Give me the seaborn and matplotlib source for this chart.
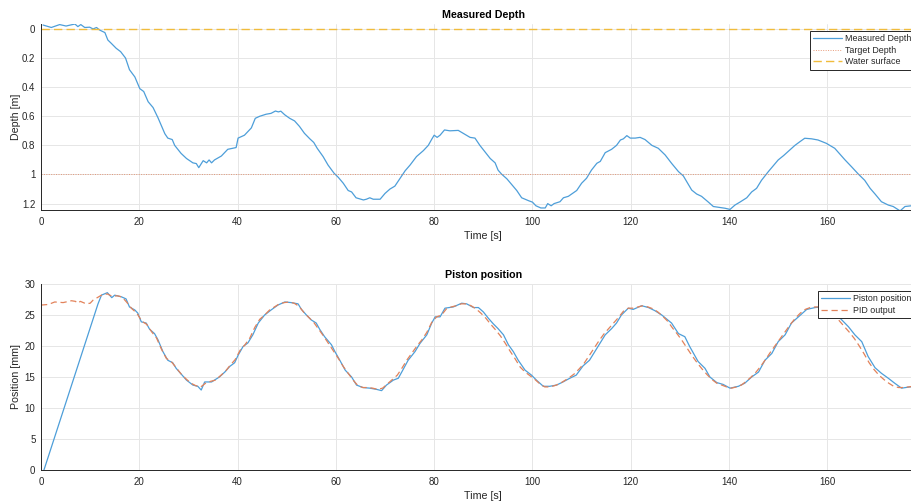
import numpy as np
import pandas as pd
import matplotlib
matplotlib.use("Agg")
import matplotlib.pyplot as plt
from matplotlib.ticker import FuncFormatter
import seaborn as sns

# ---- Measured depth [m] over time [s] ----
depth_t = [0.4, 2.1, 3.8, 5.1, 6.9, 7.5, 8.1, 8.9, 9.9, 10.6, 11.3, 11.9, 13.0, 13.6,
           14.3, 15.3, 16.2, 17.2, 18.0, 19.1, 20.1, 20.9, 21.8, 22.8, 23.8, 25.2, 25.8,
           26.7, 27.2, 28.5, 29.6, 30.9, 31.6, 32.1, 33.0, 33.7, 34.2, 34.7, 35.3, 36.7,
           38.0, 39.0, 39.7, 40.1, 41.4, 42.8, 43.6, 44.5, 45.8, 46.8, 47.7, 48.3, 48.8,
           49.6, 50.6, 51.6, 52.6, 53.6, 54.7, 55.5, 56.2, 57.4, 58.4, 59.6, 60.5, 61.5,
           62.5, 63.2, 64.1, 65.6, 66.2, 66.9, 67.6, 69.0, 70.0, 71.0, 72.0, 73.0, 74.1,
           75.1, 76.4, 77.8, 78.8, 79.5, 80.0, 80.6, 81.2, 82.1, 83.2, 84.9, 85.9, 87.3,
           88.3, 89.3, 90.3, 91.4, 92.4, 93.0, 93.7, 94.8, 95.8, 96.8, 97.8, 99.2, 100.0,
           100.7, 101.7, 102.6, 103.1, 103.8, 104.4, 105.6, 106.3, 107.3, 109.0, 110.0,
           111.0, 112.0, 113.1, 113.8, 114.8, 116.1, 117.1, 117.9, 118.5, 119.2, 119.9,
           120.9, 121.9, 122.9, 124.3, 125.6, 127.0, 128.3, 129.7, 130.7, 131.4, 132.4,
           133.4, 134.4, 135.1, 135.8, 136.8, 137.8, 139.2, 140.2, 141.2, 142.2, 143.6,
           144.6, 145.6, 146.6, 148.0, 149.0, 150.0, 151.1, 152.0, 153.4, 154.4, 155.4,
           156.8, 158.1, 159.8, 161.5, 163.6, 164.9, 166.3, 167.6, 168.7, 169.7, 171.0,
           172.4, 173.4, 174.8, 175.8, 177.1, 178.5]
depth_m = [-0.027, -0.010, -0.030, -0.020, -0.034, -0.016, -0.030, -0.010, -0.012, 0.000,
           -0.010, 0.007, 0.025, 0.076, 0.099, 0.133, 0.156, 0.200, 0.280, 0.330, 0.410,
           0.430, 0.500, 0.540, 0.610, 0.720, 0.750, 0.760, 0.800, 0.855, 0.890, 0.920,
           0.925, 0.953, 0.905, 0.920, 0.900, 0.920, 0.900, 0.873, 0.827, 0.820, 0.815,
           0.750, 0.730, 0.680, 0.614, 0.600, 0.586, 0.580, 0.564, 0.570, 0.565, 0.590,
           0.614, 0.632, 0.670, 0.717, 0.755, 0.780, 0.820, 0.877, 0.935, 0.990, 1.020,
           1.060, 1.110, 1.120, 1.160, 1.175, 1.170, 1.160, 1.170, 1.170, 1.130, 1.100,
           1.080, 1.030, 0.974, 0.935, 0.877, 0.836, 0.800, 0.758, 0.730, 0.745, 0.730,
           0.694, 0.700, 0.697, 0.717, 0.745, 0.750, 0.800, 0.843, 0.890, 0.920, 0.970,
           0.997, 1.030, 1.070, 1.110, 1.160, 1.180, 1.190, 1.215, 1.230, 1.230, 1.200,
           1.215, 1.200, 1.187, 1.160, 1.150, 1.110, 1.060, 1.026, 0.970, 0.923, 0.910,
           0.850, 0.827, 0.800, 0.763, 0.755, 0.733, 0.750, 0.750, 0.745, 0.760, 0.800,
           0.820, 0.866, 0.923, 0.980, 1.010, 1.050, 1.107, 1.134, 1.150, 1.170, 1.190,
           1.220, 1.225, 1.232, 1.240, 1.210, 1.190, 1.160, 1.120, 1.095, 1.040, 0.980,
           0.940, 0.900, 0.870, 0.843, 0.800, 0.775, 0.751, 0.755, 0.763, 0.786, 0.820,
           0.900, 0.946, 0.997, 1.040, 1.095, 1.134, 1.187, 1.210, 1.220, 1.250, 1.220,
           1.215, 1.210]

target_depth = 1.0
water_surface = 0.0

# ---- Piston position [mm] ----
piston_t = [0.6, 11.6, 12.3, 13.5, 14.4, 15.0, 16.3, 17.3, 18.0, 19.1, 19.7, 20.4, 21.4,
            22.1, 23.1, 23.8, 24.8, 25.8, 26.8, 27.5, 28.5, 29.6, 30.9, 31.9, 32.6, 33.3,
            34.7, 35.3, 36.3, 37.4, 38.4, 39.4, 40.1, 41.1, 42.1, 43.1, 44.2, 45.5, 46.8,
            48.2, 49.6, 50.9, 52.3, 53.0, 54.0, 55.0, 56.0, 56.7, 57.7, 59.1, 59.8, 60.8,
            61.9, 63.2, 64.2, 65.5, 66.9, 68.3, 69.3, 70.3, 71.7, 72.7, 73.4, 74.7, 76.1,
            77.1, 78.5, 79.5, 80.2, 81.2, 82.2, 83.9, 85.6, 86.6, 88.0, 89.0, 90.0, 91.0,
            92.0, 93.0, 94.1, 95.1, 96.1, 97.1, 98.5, 99.8, 100.8, 102.2, 103.5, 104.9,
            106.2, 107.6, 108.9, 110.3, 111.6, 112.7, 113.7, 114.8, 116.1, 117.1, 118.1,
            119.5, 120.5, 122.2, 123.6, 124.9, 126.3, 128.3, 129.7, 131.0, 132.0, 133.7,
            135.1, 136.1, 137.5, 138.8, 140.2, 141.9, 143.2, 144.6, 146.0, 147.3, 148.7,
            150.0, 151.4, 152.7, 154.1, 155.8, 157.5, 159.3, 161.0, 162.2, 164.3, 165.6,
            167.0, 168.3, 169.7, 171.0, 172.4, 173.7, 175.1, 176.8, 178.5]
piston_mm = [0.0, 26.8, 28.2, 28.6, 27.8, 28.2, 27.95, 27.6, 26.3, 25.8, 25.3, 23.9, 23.7,
             22.7, 22.0, 21.0, 19.1, 17.7, 17.3, 16.4, 15.5, 14.5, 13.7, 13.5, 12.9, 14.2,
             14.2, 14.5, 15.0, 15.8, 16.7, 17.3, 18.5, 19.9, 20.5, 21.8, 23.7, 25.0, 25.8,
             26.6, 27.1, 27.0, 26.8, 25.9, 25.0, 24.2, 23.7, 22.7, 21.5, 20.2, 19.1, 17.7,
             16.1, 15.0, 13.7, 13.3, 13.2, 13.0, 12.8, 13.7, 14.5, 14.8, 15.8, 17.7, 19.1,
             20.4, 21.8, 23.7, 24.7, 24.7, 26.1, 26.3, 26.9, 26.8, 26.2, 26.2, 25.5, 24.5,
             23.6, 22.8, 21.8, 20.2, 19.1, 17.7, 16.1, 15.3, 14.5, 13.5, 13.5, 13.7,
             14.2, 14.8, 15.3, 16.8, 17.7, 19.1, 20.4, 21.8, 22.8, 23.7, 25.0,
             26.1, 25.9, 26.5, 26.2, 25.7, 25.0, 23.7, 22.0, 21.5, 19.9, 17.5,
             16.4, 15.0, 14.1, 13.8, 13.2, 13.5, 14.0, 15.0, 15.8, 17.7, 18.8,
             20.7, 21.8, 23.7, 24.7, 25.9, 26.2, 26.3, 25.6, 24.8, 23.1, 21.8,
             20.7, 18.3, 16.5, 15.6, 14.8, 14.0, 13.2, 13.4, 13.4]

# ---- PID output [mm] ----
pid_t = [0.0, 1.5, 2.8, 4.5, 6.2, 7.0, 7.5, 8.0, 9.2, 10.0, 10.6, 12.3, 13.5, 14.5,
         15.5, 16.5, 17.5, 18.5, 19.5, 20.5, 21.5, 22.5, 23.5, 24.5, 25.5, 26.5, 27.5,
         28.5, 29.5, 30.5, 31.5, 32.5, 33.5, 34.5, 35.5, 36.5, 37.5, 38.5, 39.5, 40.5,
         41.5, 42.5, 43.5, 44.5, 45.5, 46.5, 47.5, 48.5, 49.5, 50.5, 51.5, 52.5, 53.5,
         54.5, 55.5, 56.5, 57.5, 58.5, 59.5, 60.5, 61.5, 62.5, 63.5, 64.5, 65.5, 66.5,
         67.5, 68.5, 69.5, 70.5, 71.5, 72.5, 73.5, 74.5, 75.5, 76.5, 77.5, 78.5, 79.5,
         80.5, 81.5, 82.5, 83.5, 84.5, 85.5, 86.5, 87.5, 88.5, 89.5, 90.5, 91.5, 92.5,
         93.5, 94.5, 95.5, 96.5, 97.5, 98.5, 99.5, 100.5, 101.5, 102.5, 103.5, 104.5,
         105.5, 106.5, 107.5, 108.5, 109.5, 110.5, 111.5, 112.5, 113.5, 114.5, 115.5,
         116.5, 117.5, 118.5, 119.5, 120.5, 121.5, 122.5, 123.5, 124.5, 125.5, 126.5,
         127.5, 128.5, 129.5, 130.5, 131.5, 132.5, 133.5, 134.5, 135.5, 136.5, 137.5,
         138.5, 139.5, 140.5, 141.5, 142.5, 143.5, 144.5, 145.5, 146.5, 147.5, 148.5,
         149.5, 150.5, 151.5, 152.5, 153.5, 154.5, 155.5, 156.5, 157.5, 158.5, 160.5,
         161.5, 162.5, 163.5, 164.5, 165.5, 166.5, 167.5, 168.5, 169.5, 170.5, 171.5,
         172.5, 173.5, 174.5, 175.5, 176.5, 177.5, 179.0]
pid_mm = [26.6, 26.7, 27.1, 27.0, 27.3, 27.2, 26.9, 27.2, 26.8, 26.9, 27.4, 28.2, 28.4,
          28.0, 28.1, 27.9, 27.0, 26.0, 25.3, 24.0, 23.5, 22.3, 21.3, 19.5, 18.0, 17.5,
          16.5, 15.5, 14.7, 14.0, 13.6, 13.4, 14.0, 14.3, 14.5, 15.2, 15.9, 16.9, 17.8,
          19.3, 20.2, 21.3, 23.0, 24.3, 25.0, 25.8, 26.3, 26.8, 27.0, 27.1, 26.9, 26.4,
          25.4, 24.6, 23.8, 22.7, 21.6, 20.4, 19.2, 18.0, 16.7, 15.6, 14.5, 13.6, 13.3,
          13.3, 13.2, 13.0, 13.2, 13.9, 14.6, 15.3, 16.5, 17.8, 18.9, 20.0, 21.0, 22.2,
          23.8, 24.7, 25.0, 26.0, 26.3, 26.5, 26.8, 26.8, 26.5, 26.0, 25.3, 24.5, 23.5,
          22.6, 21.6, 20.4, 19.1, 17.9, 16.6, 15.8, 15.2, 14.6, 13.9, 13.4, 13.4, 13.6,
          13.9, 14.4, 14.9, 15.5, 16.3, 17.2, 18.4, 19.6, 20.8, 21.9, 22.8, 23.7, 24.6,
          25.6, 26.1, 26.1, 26.3, 26.5, 26.3, 26.0, 25.5, 24.8, 24.0, 22.9, 21.9, 20.8,
          19.6, 18.4, 17.3, 16.3, 15.4, 14.6, 14.0, 13.7, 13.4, 13.2, 13.4, 13.7, 14.3,
          15.0, 15.8, 16.8, 17.9, 19.1, 20.2, 21.3, 22.4, 23.5, 24.5, 25.3, 25.9, 26.2,
          26.3, 26.3, 25.8, 25.0, 24.0, 23.1, 22.2, 21.2, 20.0, 18.7, 17.3, 16.2, 15.3,
          14.6, 14.0, 13.5, 13.3, 13.3, 13.4, 13.5, 13.5]

depth_df = pd.DataFrame({"Time [s]": depth_t, "Depth [m]": depth_m})
piston_df = pd.DataFrame({"Time [s]": piston_t, "Position [mm]": piston_mm})
pid_df = pd.DataFrame({"Time [s]": pid_t, "Position [mm]": pid_mm})

sns.set_theme(style="whitegrid")
plt.rcParams["font.family"] = ["Liberation Sans", "DejaVu Sans"]

TEXT = "#262626"
GRID = "#e6e6e6"
BLUE = "#4d9ed9"
ORANGE = "#e2825a"
YELLOW = "#f0bc3c"

fig = plt.figure(figsize=(9.12, 5.03), dpi=100)
fig.patch.set_facecolor("white")

ax1 = fig.add_axes([0.04496, 0.5825, 0.9700, 0.3698])
ax2 = fig.add_axes([0.04496, 0.0656, 0.9700, 0.3698])


def style_axes(ax):
    ax.set_facecolor("white")
    for side in ("top", "right"):
        ax.spines[side].set_visible(False)
    for side in ("left", "bottom"):
        ax.spines[side].set_color(TEXT)
        ax.spines[side].set_linewidth(0.7)
    ax.grid(True, color=GRID, linewidth=0.7)
    ax.tick_params(direction="in", length=5, width=0.7, color=TEXT,
                   labelcolor=TEXT, labelsize=7)
    ax.tick_params(axis="x", pad=5)
    ax.tick_params(axis="y", pad=4)
    ax.set_xlim(0, 180)
    ax.set_xticks(np.arange(0, 161, 20))


def style_legend(leg):
    leg.get_frame().set_linewidth(0.7)
    for t in leg.get_texts():
        t.set_color(TEXT)


legend_kw = dict(bbox_transform=fig.transFigure, fontsize=6.4, frameon=True,
                 fancybox=False, framealpha=1, edgecolor=TEXT, borderpad=0.35,
                 labelspacing=0.3, handlelength=3.3, handletextpad=0.3,
                 borderaxespad=0, loc="upper left")

# ---- Measured Depth ----
sns.lineplot(data=depth_df, x="Time [s]", y="Depth [m]", ax=ax1, color=BLUE,
             linewidth=0.9, estimator=None, label="Measured Depth")
ax1.axhline(target_depth, color=ORANGE, linewidth=0.7, linestyle=(0, (1, 1.5)),
            alpha=0.8, label="Target Depth")
ax1.axhline(water_surface, color=YELLOW, linewidth=1.0, linestyle=(0, (6, 3)),
            label="Water surface")
style_axes(ax1)
ax1.set_ylim(1.244, -0.034)
ax1.set_yticks([0, 0.2, 0.4, 0.6, 0.8, 1.0, 1.2])
ax1.yaxis.set_major_formatter(FuncFormatter(lambda v, p: f"{v:g}"))
ax1.set_title("Measured Depth", fontsize=7.7, fontweight="bold", color="black", pad=4)
ax1.set_xlabel("Time [s]", fontsize=7.7, color=TEXT, labelpad=3)
ax1.set_ylabel("Depth [m]", fontsize=7.7, color=TEXT, labelpad=1)
leg1 = ax1.legend(bbox_to_anchor=(810 / 912, 1 - 31 / 503), **legend_kw)
style_legend(leg1)

# ---- Piston position ----
sns.lineplot(data=piston_df, x="Time [s]", y="Position [mm]", ax=ax2, color=BLUE,
             linewidth=0.9, estimator=None, label="Piston position")
sns.lineplot(data=pid_df, x="Time [s]", y="Position [mm]", ax=ax2, color=ORANGE,
             linewidth=0.9, estimator=None, label="PID output", dashes=False,
             linestyle=(0, (5, 3)))
style_axes(ax2)
ax2.set_ylim(0, 30)
ax2.set_yticks(np.arange(0, 31, 5))
ax2.set_title("Piston position", fontsize=7.7, fontweight="bold", color="black", pad=4)
ax2.set_xlabel("Time [s]", fontsize=7.7, color=TEXT, labelpad=3)
ax2.set_ylabel("Position [mm]", fontsize=7.7, color=TEXT, labelpad=3)
leg2 = ax2.legend(bbox_to_anchor=(818 / 912, 1 - 291 / 503), **legend_kw)
style_legend(leg2)

fig.savefig("out.png", dpi=100, facecolor="white")
